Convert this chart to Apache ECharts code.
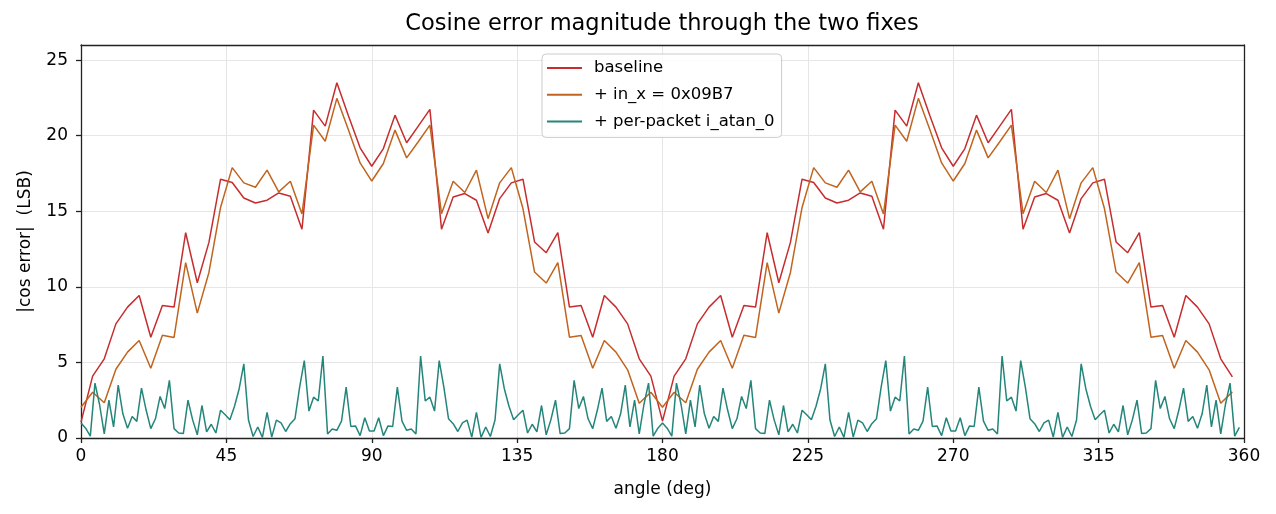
<!DOCTYPE html>
<html>
<head>
<meta charset="UTF-8">
<title>Cosine error magnitude</title>
<script type="text/javascript" src="https://cdn.jsdelivr.net/npm/echarts@6/dist/echarts.min.js"></script>
<style>
  html, body { margin: 0; padding: 0; background: #fff; }
</style>
</head>
<body>
<div id="show" style="width:1276px;height:514px"></div>
<script type="text/javascript">
// coarse sweep: one sample every 3.6 deg (100 points)
var coarseStep = 3.6;
var baseline = [
  1.05, 4.09, 5.24, 7.55, 8.66, 9.43, 6.67, 8.77, 8.66, 13.58,
  10.27, 12.94, 17.12, 16.9, 15.88, 15.55, 15.73, 16.21, 15.99, 13.81,
  21.69, 20.63, 23.5, 21.3, 19.2, 17.98, 19.15, 21.36, 19.53, 20.63,
  21.74, 13.81, 15.95, 16.17, 15.73, 13.56, 15.84, 16.88, 17.12, 12.97,
  12.26, 13.58, 8.66, 8.77, 6.67, 9.43, 8.66, 7.55, 5.24, 4.09,
  1.12, 4.09, 5.24, 7.55, 8.66, 9.43, 6.67, 8.77, 8.66, 13.58,
  10.27, 12.94, 17.12, 16.9, 15.88, 15.55, 15.73, 16.21, 15.99, 13.81,
  21.69, 20.63, 23.5, 21.3, 19.2, 17.98, 19.15, 21.36, 19.53, 20.63,
  21.74, 13.81, 15.95, 16.17, 15.73, 13.56, 15.84, 16.88, 17.12, 12.97,
  12.26, 13.58, 8.66, 8.77, 6.67, 9.43, 8.66, 7.55, 5.24, 4.05
];
var inxFix = [
  2.03, 3.03, 2.33, 4.55, 5.68, 6.45, 4.62, 6.8, 6.65, 11.6,
  8.26, 10.95, 15.25, 17.89, 16.88, 16.59, 17.72, 16.28, 16.99, 14.82,
  20.7, 19.63, 22.47, 20.37, 18.2, 17.0, 18.16, 20.37, 18.53, 19.6,
  20.7, 14.84, 16.99, 16.24, 17.72, 14.51, 16.88, 17.89, 15.18, 10.98,
  10.25, 11.6, 6.67, 6.78, 4.62, 6.45, 5.68, 4.51, 2.3, 3.03,
  2.03, 3.03, 2.33, 4.55, 5.68, 6.45, 4.62, 6.8, 6.65, 11.6,
  8.26, 10.95, 15.25, 17.89, 16.88, 16.59, 17.72, 16.28, 16.99, 14.82,
  20.7, 19.63, 22.47, 20.37, 18.2, 17.0, 18.16, 20.37, 18.53, 19.6,
  20.7, 14.84, 16.99, 16.24, 17.72, 14.51, 16.88, 17.89, 15.18, 10.98,
  10.25, 11.6, 6.67, 6.78, 4.62, 6.45, 5.68, 4.51, 2.3, 3.05
];

// fine sweep: one sample every 1.44 deg (250 points)
var fineStep = 1.44;
var perPacket = [
  1.0, 0.65, 0.12, 3.63, 2.2, 0.27, 2.5, 0.73, 3.5, 1.6,
  0.65, 1.42, 1.1, 3.3, 1.85, 0.62, 1.27, 2.75, 1.95, 3.81,
  0.62, 0.33, 0.29, 2.5, 1.2, 0.21, 2.15, 0.4, 0.91, 0.33,
  1.84, 1.54, 1.2, 2.1, 3.26, 4.9, 1.19, 0.1, 0.73, 0.04,
  1.7, 0.06, 1.18, 1.0, 0.43, 0.95, 1.28, 3.37, 5.12, 1.78,
  2.7, 2.45, 5.42, 0.27, 0.6, 0.51, 1.12, 3.37, 0.76, 0.8,
  0.16, 1.34, 0.46, 0.46, 1.34, 0.16, 0.8, 0.76, 3.37, 1.12,
  0.51, 0.6, 0.27, 5.42, 2.45, 2.7, 1.78, 5.12, 3.37, 1.28,
  0.95, 0.43, 1.0, 1.18, 0.06, 1.7, 0.04, 0.73, 0.1, 1.19,
  4.9, 3.26, 2.1, 1.2, 1.54, 1.84, 0.33, 0.91, 0.4, 2.15,
  0.21, 1.2, 2.5, 0.29, 0.33, 0.62, 3.81, 1.95, 2.75, 1.27,
  0.62, 1.85, 3.3, 1.1, 1.42, 0.65, 1.6, 3.5, 0.73, 2.5,
  0.27, 2.2, 3.63, 0.12, 0.65,
  1.0, 0.65, 0.12, 3.63, 2.2, 0.27, 2.5, 0.73, 3.5, 1.6,
  0.65, 1.42, 1.1, 3.3, 1.85, 0.62, 1.27, 2.75, 1.95, 3.81,
  0.62, 0.33, 0.29, 2.5, 1.2, 0.21, 2.15, 0.4, 0.91, 0.33,
  1.84, 1.54, 1.2, 2.1, 3.26, 4.9, 1.19, 0.1, 0.73, 0.04,
  1.7, 0.06, 1.18, 1.0, 0.43, 0.95, 1.28, 3.37, 5.12, 1.78,
  2.7, 2.45, 5.42, 0.27, 0.6, 0.51, 1.12, 3.37, 0.76, 0.8,
  0.16, 1.34, 0.46, 0.46, 1.34, 0.16, 0.8, 0.76, 3.37, 1.12,
  0.51, 0.6, 0.27, 5.42, 2.45, 2.7, 1.78, 5.12, 3.37, 1.28,
  0.95, 0.43, 1.0, 1.18, 0.06, 1.7, 0.04, 0.73, 0.1, 1.19,
  4.9, 3.26, 2.1, 1.2, 1.54, 1.84, 0.33, 0.91, 0.4, 2.15,
  0.21, 1.2, 2.5, 0.29, 0.33, 0.62, 3.81, 1.95, 2.75, 1.27,
  0.62, 1.85, 3.3, 1.1, 1.42, 0.65, 1.6, 3.5, 0.73, 2.5,
  0.27, 2.2, 3.63, 0.12, 0.7
];

var xTicks = [0, 45, 90, 135, 180, 225, 270, 315, 360];
var yTicks = [0, 5, 10, 15, 20, 25];
var names = ['baseline', '+ in_x = 0x09B7', '+ per-packet i_atan_0'];
var colors = ['#c62d2f', '#c0641f', '#24857a'];

function pairs(vals, step) {
  var out = [];
  for (var i = 0; i < vals.length; i++) {
    out.push([i * step, vals[i]]);
  }
  return out;
}

var font = 'DejaVu Sans';
var spine = {show: true, onZero: false, lineStyle: {color: '#222', width: 1.3}};
var myCharts = echarts.init(document.getElementById('show'), null, {renderer: 'canvas'});
myCharts.setOption({
  animation: false,
  backgroundColor: '#fff',
  title: {
    text: 'Cosine error magnitude through the two fixes',
    left: 662,
    top: 13,
    padding: 0,
    textAlign: 'center',
    textStyle: {fontFamily: font, fontSize: 22.5, fontWeight: 'normal', color: '#000'}
  },
  legend: {
    data: names,
    orient: 'vertical',
    left: 542,
    top: 54,
    padding: [4, 7, 6, 5],
    itemGap: 6.7,
    itemWidth: 35,
    itemHeight: 2,
    icon: 'rect',
    backgroundColor: 'rgba(255,255,255,0.85)',
    borderColor: '#cccccc',
    borderWidth: 1,
    borderRadius: 4,
    textStyle: {fontFamily: font, fontSize: 16.5, color: '#000', lineHeight: 20, padding: [0, 0, 0, 7]}
  },
  grid: {
    left: 81, right: 32, top: 45, bottom: 76
  },
  xAxis: [{
    type: 'value',
    min: 0,
    max: 360,
    interval: 45,
    name: 'angle (deg)',
    nameLocation: 'middle',
    nameGap: 43,
    nameTextStyle: {fontFamily: font, fontSize: 17, color: '#000'},
    axisLine: spine,
    axisTick: {show: true, length: 5, lineStyle: {color: '#222', width: 1.3}},
    axisLabel: {
      fontFamily: font, fontSize: 17, color: '#000', margin: 10,
      customValues: xTicks
    },
    splitLine: {show: true, lineStyle: {color: '#e6e6e6', width: 1}}
  }, {
    type: 'value', position: 'top', min: 0, max: 360,
    axisLine: spine, axisTick: {show: false}, axisLabel: {show: false}, splitLine: {show: false}
  }],
  yAxis: [{
    type: 'value',
    min: 0,
    max: 26,
    interval: 5,
    name: '|cos error|  (LSB)',
    nameLocation: 'middle',
    nameGap: 47,
    nameRotate: 90,
    nameTextStyle: {fontFamily: font, fontSize: 17, color: '#000'},
    axisLine: spine,
    axisTick: {show: true, length: 5, customValues: yTicks, lineStyle: {color: '#222', width: 1.3}},
    axisLabel: {
      fontFamily: font, fontSize: 17, color: '#000', margin: 13,
      customValues: yTicks
    },
    splitLine: {show: true, lineStyle: {color: '#e6e6e6', width: 1}}
  }, {
    type: 'value', position: 'right', min: 0, max: 26,
    axisLine: spine, axisTick: {show: false}, axisLabel: {show: false}, splitLine: {show: false}
  }],
  series: [
    {
      name: names[0], type: 'line', data: pairs(baseline, coarseStep),
      showSymbol: false, color: colors[0], lineStyle: {width: 1.5}, z: 3
    },
    {
      name: names[1], type: 'line', data: pairs(inxFix, coarseStep),
      showSymbol: false, color: colors[1], lineStyle: {width: 1.5}, z: 3
    },
    {
      name: names[2], type: 'line', data: pairs(perPacket, fineStep),
      showSymbol: false, color: colors[2], lineStyle: {width: 1.5}, z: 3
    }
  ]
});
</script>
</body>
</html>
